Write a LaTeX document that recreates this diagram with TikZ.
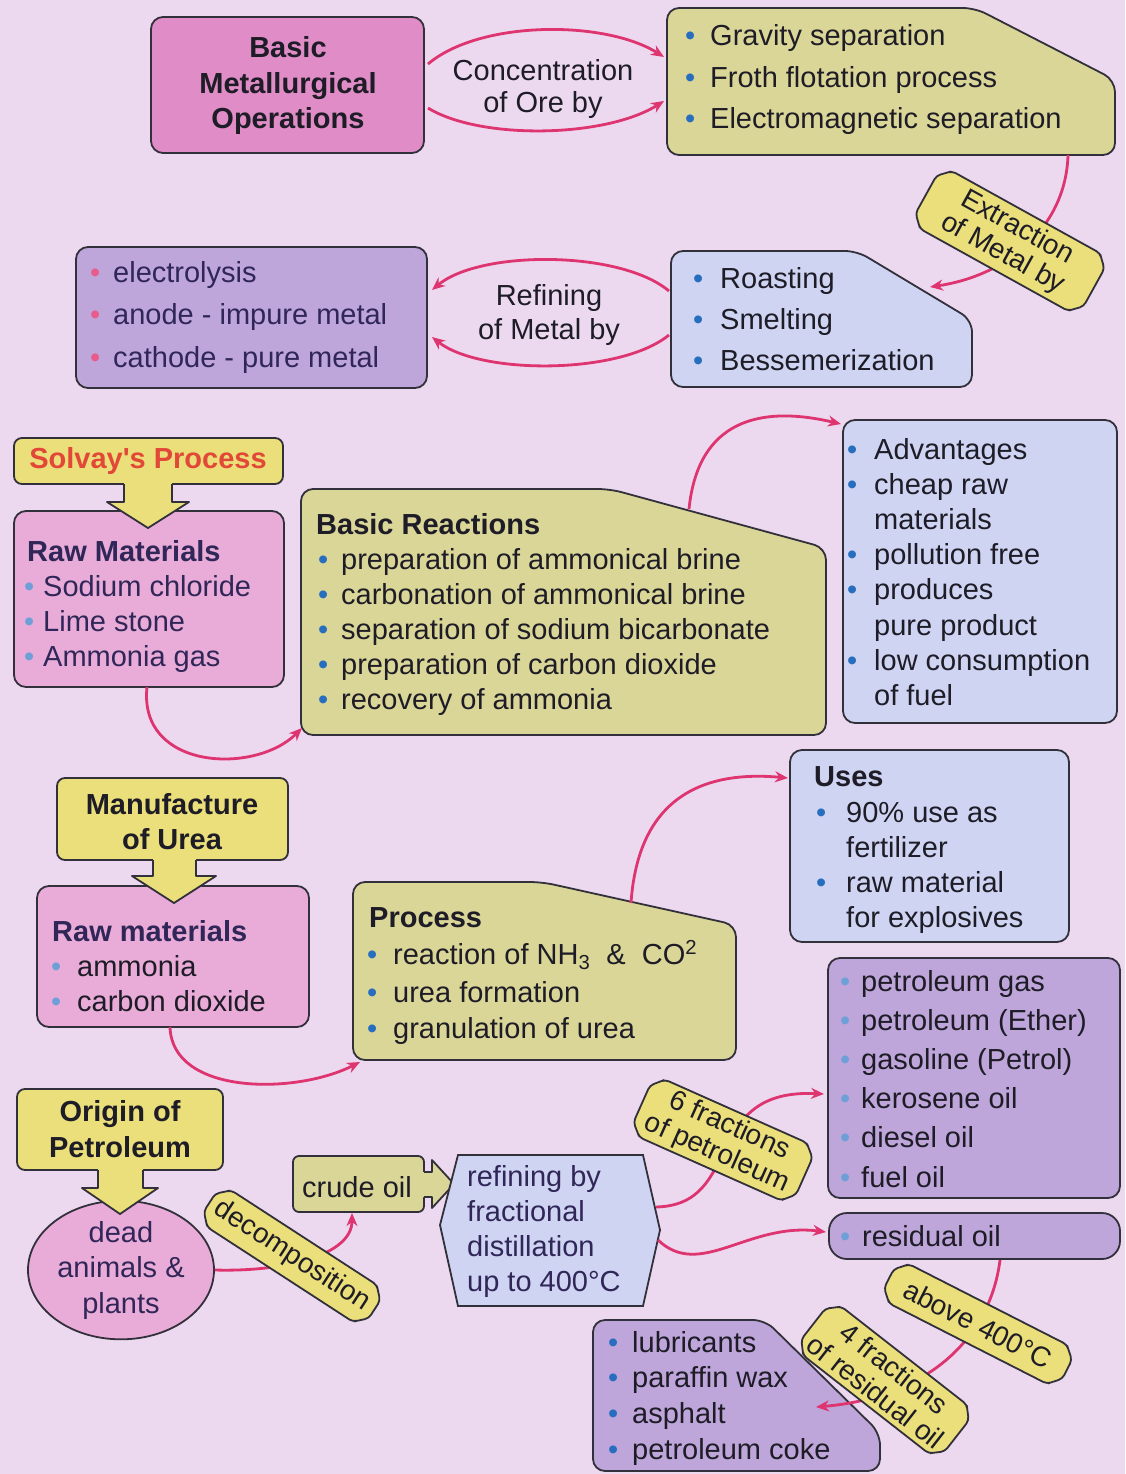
\documentclass[tikz,border=0pt]{standalone}
\usepackage{fontspec}
\setmainfont{Liberation Sans}
\usetikzlibrary{arrows.meta,shapes.geometric,shapes.misc}
\definecolor{bgc}{RGB}{236,217,240}
\definecolor{pinkA}{RGB}{224,140,198}
\definecolor{pinkB}{RGB}{233,172,216}
\definecolor{khaki}{RGB}{218,214,152}
\definecolor{ylw}{RGB}{234,223,122}
\definecolor{purp}{RGB}{190,166,218}
\definecolor{lblue}{RGB}{206,212,242}
\definecolor{edgec}{RGB}{50,48,58}
\definecolor{linkc}{RGB}{222,52,112}
\definecolor{bblue}{RGB}{40,110,190}
\definecolor{bpink}{RGB}{232,92,140}
\definecolor{blight}{RGB}{110,160,215}
\definecolor{tcol}{RGB}{30,28,38}
\definecolor{navyc}{RGB}{48,38,88}
\definecolor{redt}{RGB}{226,72,56}
\newcommand\bul[2]{\llap{\textcolor{#2}{•}\hspace{#1pt}}}
\begin{document}
\begin{tikzpicture}[x=1pt,y=-1pt,
  bx/.style={draw=edgec, line width=1.8pt, rounded corners=12pt},
  txt/.style={font=\fontsize{29}{35}\selectfont, text=tcol, inner sep=0pt, anchor=base west},
  ctr/.style={font=\fontsize{29}{35}\selectfont, text=tcol, inner sep=0pt, align=center},
  ttl/.style={txt, font=\fontsize{29}{35}\selectfont\bfseries},
  link/.style={draw=linkc, line width=2.8pt, -{Stealth[length=13pt,width=11pt]}},
  lbl/.style={chamfered rectangle, chamfered rectangle xsep=8pt, draw=edgec, line width=1.8pt, fill=ylw, rounded corners=4pt, font=\fontsize{28}{30}\selectfont, text=tcol, align=center, inner sep=0pt},
  blk/.style={fill=ylw},
  blkl/.style={draw=edgec, line width=1.8pt, line join=round},
]
\fill[bgc] (0,0) rectangle (1125,1474);
\useasboundingbox (0,0) rectangle (1125,1474);

% ---------- boxes ----------
\path[bx, fill=pinkA] (151,17) rectangle (424,153);
\path[bx, fill=khaki] (667,8) -- (975,8) -- (1115,80) -- (1115,155) -- (667,155) -- cycle;
\path[bx, fill=purp] (76,247) rectangle (427,388);
\path[bx, fill=lblue] (671,251) -- (857,251) -- (972,320) -- (972,387) -- (671,387) -- cycle;
\path[bx, fill=ylw, rounded corners=8pt] (14,438) rectangle (283,484);
\path[bx, fill=pinkB] (14,511) rectangle (284,687);
\path[bx, fill=khaki] (301,489) -- (610,489) -- (826,548) -- (826,735) -- (301,735) -- cycle;
\path[bx, fill=lblue] (843,420) rectangle (1117,723);
\path[bx, fill=ylw, rounded corners=8pt] (57,778) rectangle (288,860);
\path[bx, fill=pinkB] (37,886) rectangle (309,1027);
\path[bx, fill=khaki] (353,882) -- (542,882) -- (736,925) -- (736,1060) -- (353,1060) -- cycle;
\path[bx, fill=lblue] (790,750) rectangle (1069,942);
\path[bx, fill=purp] (828,958) rectangle (1120,1198);
\path[bx, fill=ylw, rounded corners=8pt] (17,1089) rectangle (223,1170);
\node[ellipse, draw=edgec, line width=1.8pt, fill=pinkB, minimum width=186pt, minimum height=132pt, inner sep=0pt,
  font=\fontsize{29}{35.5}\selectfont, text=navyc, align=center] (dead) at (121,1270) {dead\\animals \&\\plants};
\path[bx, fill=khaki, rounded corners=6pt] (293,1156) rectangle (424,1212);
\path[fill=khaki] (421,1172) -- (432,1172) -- (432,1160) -- (454,1184) -- (432,1208) -- (432,1197) -- (421,1197) -- cycle;
\draw[blkl] (424,1172) -- (432,1172) -- (432,1160) -- (454,1184) -- (432,1208) -- (432,1197) -- (424,1197);
\path[draw=edgec, line width=1.8pt, fill=lblue] (458,1155) -- (643,1155) -- (660,1230) -- (643,1306) -- (458,1306) -- (440,1225) -- cycle;
\path[bx, fill=purp, rounded corners=18pt] (829,1213) rectangle (1120,1259);
\path[bx, fill=purp] (593,1320) -- (765,1320) -- (880,1433) -- (880,1471) -- (593,1471) -- cycle;

% ---------- block arrows ----------
\path[blk] (124,481) -- (124,502) -- (107,502) -- (148,528) -- (189,502) -- (172,502) -- (172,481) -- cycle;
\draw[blkl] (124,484) -- (124,502) -- (107,502) -- (148,528) -- (189,502) -- (172,502) -- (172,484);
\path[blk] (153,857) -- (153,876) -- (132,876) -- (174,903) -- (216,876) -- (196,876) -- (196,857) -- cycle;
\draw[blkl] (153,860) -- (153,876) -- (132,876) -- (174,903) -- (216,876) -- (196,876) -- (196,860);
\path[blk] (98,1167) -- (98,1188) -- (82,1188) -- (120,1214) -- (158,1188) -- (143,1188) -- (143,1167) -- cycle;
\draw[blkl] (98,1170) -- (98,1188) -- (82,1188) -- (120,1214) -- (158,1188) -- (143,1188) -- (143,1170);

% ---------- connector end points ----------
\coordinate (a1) at (428,64);   \coordinate (b1) at (664,57);
\coordinate (a2) at (428,108);  \coordinate (b2) at (664,101);
\coordinate (d1) at (669,291);  \coordinate (c1) at (432,290);
\coordinate (d2) at (669,335);  \coordinate (c2) at (432,337);
\coordinate (b3) at (1068,155); \coordinate (d3) at (930,287);
\coordinate (r1) at (147,687);  \coordinate (br1) at (302,728);
\coordinate (br2) at (689,509); \coordinate (adv) at (841,424);
\coordinate (u1) at (170,1027); \coordinate (p1) at (360,1062);
\coordinate (p2) at (631,903);  \coordinate (uses) at (788,778);
\coordinate (cr1) at (352,1213);
\coordinate (rf1) at (656,1207); \coordinate (pe1) at (824,1094);
\coordinate (rf2) at (658,1240); \coordinate (re1) at (826,1232);
\coordinate (re2) at (1000,1260); \coordinate (lb1) at (816,1407);

% ---------- connectors ----------
\draw[link] (a1) .. controls (480,20) and (605,20) .. (b1);
\draw[link] (a2) .. controls (480,140) and (605,138) .. (b2);
\draw[link] (d1) .. controls (620,250) and (480,250) .. (c1);
\draw[link] (d2) .. controls (620,375) and (480,375) .. (c2);
\draw[link] (b3) .. controls (1066,225) and (1010,275) .. (d3);
\draw[link] (r1) .. controls (138,770) and (255,775) .. (br1);
\draw[link] (br2) .. controls (698,420) and (760,405) .. (adv);
\draw[link] (u1) .. controls (172,1095) and (295,1095) .. (p1);
\draw[link] (p2) .. controls (638,800) and (700,770) .. (uses);
\draw[link] (dead.east) .. controls (285,1272) and (352,1255) .. (cr1);
\draw[link] (rf1) .. controls (745,1205) and (700,1088) .. (pe1);
\draw[link] (rf2) .. controls (700,1280) and (748,1222) .. (re1);
\draw[link] (re2) .. controls (990,1340) and (925,1398) .. (lb1);

% ---------- texts ----------
\node[ctr, font=\fontsize{29}{35.5}\selectfont\bfseries] (tA) at (288,86) {Basic\\Metallurgical\\Operations};
\node[ctr, font=\fontsize{29}{32}\selectfont] (conc) at (543,89) {Concentration\\of Ore by};
\foreach \t [count=\i from 0] in {Gravity separation, Froth flotation process, Electromagnetic separation}
  \node[txt] (B\i) at (710,{46+41.5*\i}) {\bul{15}{bblue}\t};
\foreach \t [count=\i from 0] in {electrolysis, anode - impure metal, cathode - pure metal}
  \node[txt, text=navyc] (C\i) at (113,{282+42.5*\i}) {\bul{13}{bpink}\t};
\node[ctr] (refl) at (549,315) {Refining\\of Metal by};
\foreach \t [count=\i from 0] in {Roasting, Smelting, Bessemerization}
  \node[txt] (D\i) at (720,{288+41*\i}) {\bul{17}{bblue}\t};
\node[ctr, font=\fontsize{29}{35}\selectfont\bfseries, text=redt] (solv) at (148,461) {Solvay\textquotesingle s Process};
\node[ttl, text=navyc] (rmT) at (27,561) {Raw Materials};
\foreach \t [count=\i from 0] in {Sodium chloride, Lime stone, Ammonia gas}
  \node[txt, text=navyc] (rm\i) at (43,{596+35*\i}) {\bul{9}{blight}\t};
\node[ttl] (brT) at (316,534) {Basic Reactions};
\foreach \t [count=\i from 0] in {preparation of ammonical brine, carbonation of ammonical brine, separation of sodium bicarbonate, preparation of carbon dioxide, recovery of ammonia}
  \node[txt] (br\i) at (341,{569+35.2*\i}) {\bul{13}{bblue}\t};
\foreach \b/\t [count=\i from 0] in {1/Advantages, 1/cheap raw, 0/materials, 1/pollution free, 1/produces, 0/pure product, 1/low consumption, 0/of fuel}
  \node[txt] (adv\i) at (874,{459+35.2*\i}) {\ifnum\b=1 \bul{17}{bblue}\fi\t};
\node[ctr, font=\fontsize{29}{35}\selectfont\bfseries] (manu) at (172,822) {Manufacture\\of Urea};
\node[ttl, text=navyc] (urT) at (52,941) {Raw materials};
\foreach \t [count=\i from 0] in {ammonia, carbon dioxide}
  \node[txt] (ur\i) at (77,{976+35*\i}) {\bul{16}{blight}\t};
\node[ttl] (prT) at (369,927) {Process};
\node[txt] (pr0) at (393,964) {\bul{16}{bblue}reaction of NH\textsubscript{3} \ \& \ CO\textsuperscript{2}};
\node[txt] (pr1) at (393,1002) {\bul{16}{bblue}urea formation};
\node[txt] (pr2) at (393,1038) {\bul{16}{bblue}granulation of urea};
\node[ttl] (usT) at (814,786) {Uses};
\foreach \b/\t [count=\i from 0] in {1/90\% use as, 0/fertilizer, 1/raw material, 0/for explosives}
  \node[txt] (us\i) at (846,{822+35*\i}) {\ifnum\b=1 \bul{20}{bblue}\fi\t};
\foreach \t [count=\i from 0] in {petroleum gas, petroleum (Ether), gasoline (Petrol), kerosene oil, diesel oil, fuel oil}
  \node[txt] (pe\i) at (861,{991+39.2*\i}) {\bul{11}{blight}\t};
\node[ctr, font=\fontsize{29}{36}\selectfont\bfseries] (orig) at (120,1129) {Origin of\\Petroleum};
\node[ctr] (crude) at (357,1187) {crude oil};
\foreach \t [count=\i from 0] in {refining by, fractional, distillation, up to 400°C}
  \node[txt, text=navyc] (rf\i) at (467,{1186+35*\i}) {\t};
\node[txt] (res) at (862,1246) {\bul{12}{blight}residual oil};
\foreach \t [count=\i from 0] in {lubricants, paraffin wax, asphalt, petroleum coke}
  \node[txt] (lb\i) at (632,{1352+35.7*\i}) {\bul{14}{bblue}\t};

% ---------- tilted labels ----------
\node[lbl, minimum width=192pt, minimum height=66pt, rotate=-29] (extr) at (1010,241) {Extraction\\of Metal by};
\node[lbl, minimum width=192pt, minimum height=44pt, rotate=-33] (decomp) at (292,1256) {decomposition};
\node[lbl, minimum width=178pt, minimum height=62pt, rotate=-24] (six) at (723,1140) {6 fractions\\of petroleum};
\node[lbl, minimum width=200pt, minimum height=44pt, rotate=-27] (above) at (978,1324) {above 400°C};
\node[lbl, minimum width=182pt, minimum height=62pt, rotate=-38] (four) at (885,1380) {4 fractions\\of residual oil};
\end{tikzpicture}
\end{document}
